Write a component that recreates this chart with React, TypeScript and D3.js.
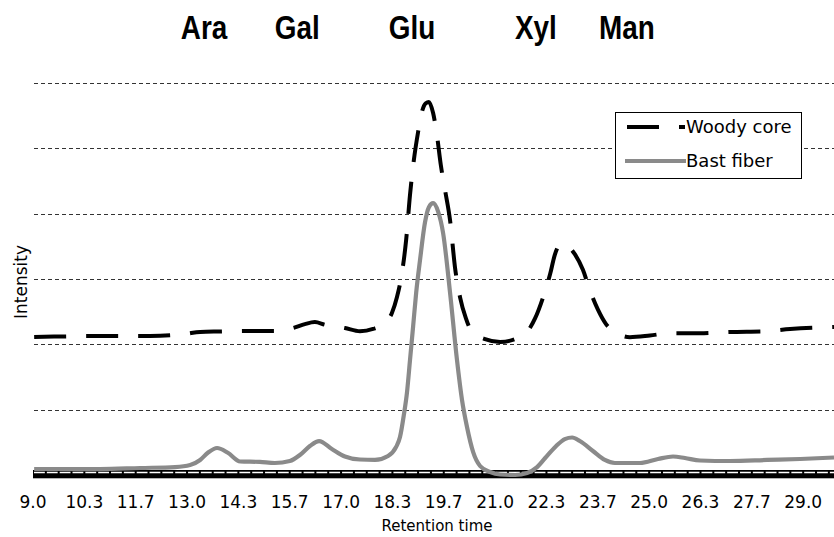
import * as d3 from "d3";

// retention time (min) / intensity (arbitrary, 1 unit = 1 gridline)
const woodyTime = [9.03, 9.7, 10.74, 12.04, 12.95, 13.34, 13.86, 14.63, 15.28, 15.75, 16.06, 16.32, 16.58, 17.1, 17.49, 17.83, 18.14, 18.32, 18.45, 18.58, 18.69, 18.79, 18.89, 19.0, 19.1, 19.2, 19.28, 19.39, 19.49, 19.59, 19.7, 19.83, 19.96, 20.09, 20.24, 20.4, 20.74, 21.13, 21.52, 21.83, 22.04, 22.24, 22.43, 22.55, 22.71, 22.87, 23.07, 23.28, 23.46, 23.67, 23.88, 24.11, 24.5, 25.02, 25.54, 26.32, 27.1, 28.01, 28.66, 29.8];
const woodyCore = [2.112, 2.12, 2.128, 2.128, 2.158, 2.19, 2.196, 2.204, 2.204, 2.25, 2.31, 2.34, 2.3, 2.25, 2.2, 2.235, 2.33, 2.48, 2.72, 3.09, 3.6, 4.29, 4.82, 5.25, 5.56, 5.69, 5.71, 5.54, 5.2, 4.745, 4.36, 3.9, 3.17, 2.72, 2.4, 2.19, 2.08, 2.036, 2.08, 2.19, 2.4, 2.71, 3.08, 3.37, 3.54, 3.51, 3.38, 3.14, 2.83, 2.53, 2.31, 2.19, 2.11, 2.135, 2.17, 2.17, 2.19, 2.2, 2.235, 2.265];

const bastTime = [9.03, 9.7, 10.74, 11.78, 12.69, 13.08, 13.34, 13.54, 13.78, 14.06, 14.38, 14.89, 15.28, 15.67, 15.93, 16.19, 16.43, 16.76, 17.1, 17.49, 17.88, 18.22, 18.43, 18.53, 18.63, 18.71, 18.79, 18.87, 18.95, 19.05, 19.18, 19.28, 19.39, 19.52, 19.65, 19.83, 20.01, 20.14, 20.27, 20.43, 20.61, 20.87, 21.13, 21.52, 21.83, 22.09, 22.3, 22.58, 22.81, 23.0, 23.2, 23.54, 23.85, 24.11, 24.76, 25.23, 25.62, 25.93, 26.32, 27.1, 28.06, 28.92, 29.8];
const bastFiber = [0.092, 0.092, 0.09, 0.107, 0.122, 0.153, 0.23, 0.34, 0.413, 0.34, 0.207, 0.2, 0.184, 0.214, 0.306, 0.444, 0.52, 0.398, 0.283, 0.237, 0.23, 0.29, 0.43, 0.58, 0.92, 1.255, 1.76, 2.27, 2.79, 3.29, 3.87, 4.1, 4.16, 4.03, 3.7, 2.79, 1.76, 1.15, 0.735, 0.35, 0.138, 0.046, 0.008, 0, 0.03, 0.12, 0.26, 0.44, 0.55, 0.574, 0.52, 0.367, 0.23, 0.184, 0.184, 0.245, 0.283, 0.26, 0.222, 0.214, 0.23, 0.245, 0.268];

const sugars = ["Ara", "Gal", "Glu", "Xyl", "Man"];
const sugarTimes = [13.44, 15.86, 18.84, 22.06, 24.42];

const xTicks = d3.range(16).map((i) => 9 + (i * 4) / 3);
const gridLevels = [1, 2, 3, 4, 5, 6];

const W = 834, H = 537;
const left = 33, right = 834, top = 83, bottom = 475;

export default function App() {
  const x = d3.scaleLinear().domain([9, 29.8]).range([left, right]);
  const y = d3.scaleLinear().domain([0, 6]).range([bottom, top]);

  const line = d3
    .line<[number, number]>()
    .x((d) => x(d[0]))
    .y((d) => y(d[1]))
    .curve(d3.curveMonotoneX);

  const woodyPath = line(woodyTime.map((t, i) => [t, woodyCore[i]]));
  const bastPath = line(bastTime.map((t, i) => [t, bastFiber[i]]));

  const step = x(9 + 1 / 3) - x(9);
  const font = "DejaVu Sans, Verdana, sans-serif";

  return (
    <svg width={W} height={H} style={{ position: "absolute", left: 0, top: 0, background: "#fff" }}>
      {/* gridlines */}
      {gridLevels.map((g) => (
        <line key={g} x1={left + 1} x2={right} y1={Math.round(y(g)) + 0.5} y2={Math.round(y(g)) + 0.5}
          stroke="#333" strokeWidth={1} strokeDasharray="4,3" />
      ))}

      {/* x axis bar with ticks */}
      <rect x={left} y={470} width={right - left} height={8.3} fill="#000" />
      <line x1={x(9) + 1} x2={right} y1={472.5} y2={472.5} stroke="#fff"
        strokeWidth={1.6} strokeDasharray={`${step - 2},2`} />

      <path d={bastPath ?? ""} fill="none" stroke="#8a8a8a" strokeWidth={4.2} strokeLinejoin="round" />
      <path d={woodyPath ?? ""} fill="none" stroke="#000" strokeWidth={4} strokeDasharray="32,20" />

      {xTicks.map((t) => (
        <text key={t} x={x(t)} y={508} textAnchor="middle" fontFamily={font} fontSize={17} fill="#000">
          {t.toFixed(1)}
        </text>
      ))}

      <text x={437} y={531} textAnchor="middle" fontFamily={font} fontSize={15}>Retention time</text>
      <text transform="translate(27,282) rotate(-90)" textAnchor="middle" fontFamily={font} fontSize={17}>Intensity</text>

      {sugars.map((s, i) => (
        <text key={s} transform={`translate(${x(sugarTimes[i])},39) scale(0.82,1)`} textAnchor="middle"
          fontFamily="Liberation Sans, Arial, sans-serif" fontWeight="bold" fontSize={34}>
          {s}
        </text>
      ))}

      {/* legend */}
      <rect x={615.5} y={112.5} width={186} height={66} fill="#fff" stroke="#000" strokeWidth={1} />
      <line x1={627} x2={685} y1={127} y2={127} stroke="#000" strokeWidth={4} strokeDasharray="32,20" />
      <text x={686} y={133} fontFamily={font} fontSize={18}>Woody core</text>
      <line x1={625} x2={686} y1={161} y2={161} stroke="#8a8a8a" strokeWidth={4.2} />
      <text x={686} y={167} fontFamily={font} fontSize={18}>Bast fiber</text>
    </svg>
  );
}
